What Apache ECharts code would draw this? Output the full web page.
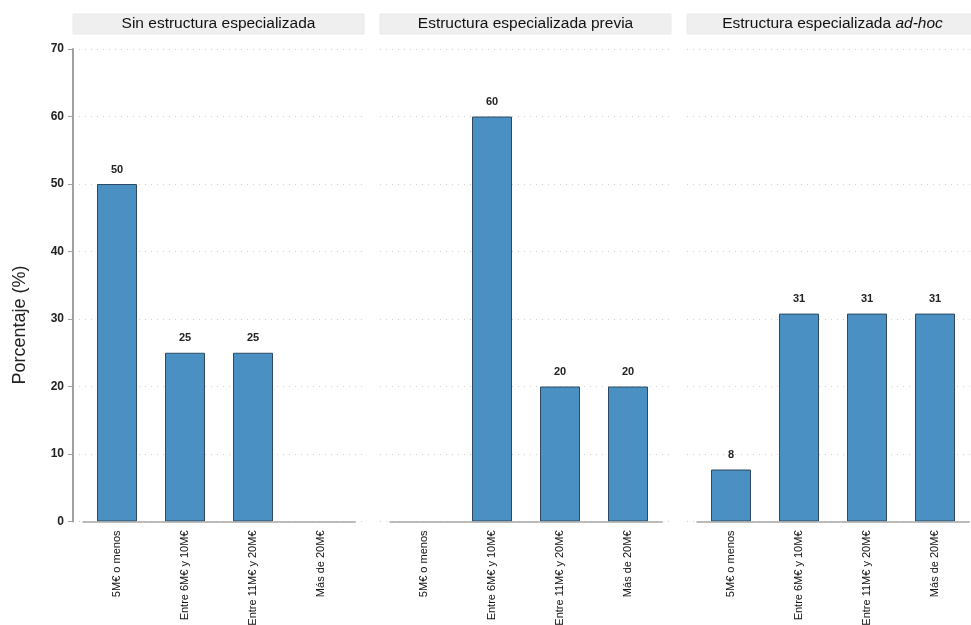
<!DOCTYPE html>
<html>
<head>
<meta charset="utf-8">
<script src="https://cdn.jsdelivr.net/npm/echarts@6/dist/echarts.min.js"></script>
<style>html,body{margin:0;padding:0;background:#fff}#c{width:971px;height:625px}</style>
</head>
<body>
<div id="c"></div>
<script>
var categories = ['5M€ o menos', 'Entre 6M€ y 10M€', 'Entre 11M€ y 20M€', 'Más de 20M€'];
var panelTitles = ['Sin estructura especializada', 'Estructura especializada previa', 'Estructura especializada {i|ad-hoc}'];
var valuesSin = [50, 25, 25, 0];
var valuesPrevia = [0, 60, 20, 20];
var valuesAdhoc = [7.7, 30.8, 30.8, 30.8];
var yTicks = [0, 10, 20, 30, 40, 50, 60, 70];
var yAxisTitle = 'Porcentaje (%)';

var FONT = '"Liberation Sans", Arial, sans-serif';
var series = [valuesSin, valuesPrevia, valuesAdhoc];
var lefts = [73, 380, 687];
var PW = 291, TOP = 49, H = 472.5;

var grids = [], xAxes = [], yAxes = [], ser = [], graphics = [], titles = [];
lefts.forEach(function (L, p) {
  grids.push({ left: L, top: TOP, width: PW, height: H, containLabel: false, outerBoundsMode: 'none' });
  grids.push({ left: L + 10, top: TOP, width: 272, height: H, containLabel: false, outerBoundsMode: 'none' });
  var ga = p * 2, gb = p * 2 + 1;
  xAxes.push({ gridIndex: ga, type: 'value', min: 0, max: 1, show: false });
  xAxes.push({
    gridIndex: gb, type: 'category', data: categories, z: 5,
    axisLine: { show: true, lineStyle: { color: '#a6a6a6', width: 1.5 } },
    axisTick: { show: false },
    axisLabel: { rotate: 90, fontSize: 11, color: '#111', margin: 9, fontFamily: FONT, interval: 0 }
  });
  yAxes.push({
    gridIndex: ga, type: 'value', min: 0, max: yTicks[yTicks.length - 1], interval: 10,
    axisLine: { show: p === 0, lineStyle: { color: '#a0a0a0', width: 2 } },
    axisTick: { show: p === 0, length: 5, lineStyle: { color: '#a0a0a0', width: 1 } },
    axisLabel: { show: p === 0, fontSize: 12, fontWeight: 'bold', color: '#222', margin: 9, fontFamily: FONT },
    splitLine: { show: true, lineStyle: { color: '#d0d0d0', type: [1, 5], width: 1 } }
  });
  yAxes.push({ gridIndex: gb, type: 'value', min: 0, max: 70, interval: 10, show: false, splitLine: { show: false } });
  ser.push({
    type: 'bar', xAxisIndex: gb, yAxisIndex: gb, barWidth: 40, z: 2,
    data: series[p].map(function (v) {
      return v === 0 ? { value: v, itemStyle: { borderWidth: 0 } } : v;
    }),
    itemStyle: { color: '#4a90c2', borderColor: '#2e4a62', borderWidth: 1 },
    label: {
      show: true, position: 'top', distance: 9, fontSize: 11, fontWeight: 'bold', color: '#222', fontFamily: FONT,
      formatter: function (d) { return d.value === 0 ? '' : Math.round(d.value); }
    },
    animation: false
  });
  graphics.push({
    type: 'rect', shape: { x: L, y: 14, width: PW, height: 20 },
    style: { fill: '#efefef', stroke: '#e6e9ec', lineWidth: 1 }, z: 0
  });
  titles.push({
    text: panelTitles[p], left: L + PW / 2, top: 16, textAlign: 'center',
    textStyle: {
      fontSize: 15.5, fontWeight: 'normal', color: '#111', fontFamily: FONT,
      rich: { i: { fontSize: 15.5, fontStyle: 'italic', color: '#111', fontFamily: FONT } }
    }, padding: 0
  });
});
graphics.push({
  type: 'text', x: 20, y: 325, rotation: Math.PI / 2,
  style: { text: yAxisTitle, fill: '#222', font: '18px ' + FONT, textAlign: 'center', textVerticalAlign: 'middle' }
});

var chart = echarts.init(document.getElementById('c'), null, { renderer: 'canvas' });
chart.setOption({
  animation: false,
  backgroundColor: '#fff',
  title: titles,
  grid: grids,
  xAxis: xAxes,
  yAxis: yAxes,
  series: ser,
  graphic: graphics
});
</script>
</body>
</html>
